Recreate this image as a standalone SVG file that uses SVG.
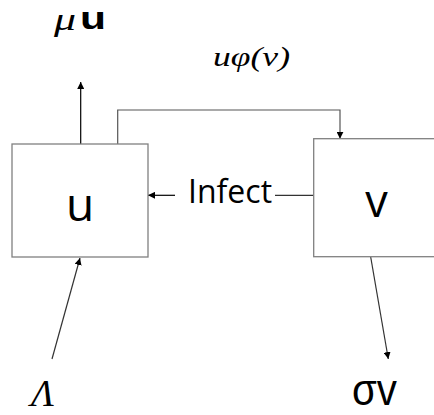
<svg xmlns="http://www.w3.org/2000/svg" width="434" height="415" viewBox="0 0 434 415">
<defs>
<marker id="ah" viewBox="0 0 10 10" refX="10" refY="5" markerWidth="7" markerHeight="7" markerUnits="userSpaceOnUse" orient="auto">
<path d="M0,0 L10,5 L0,10 z" fill="#000"/>
</marker>
<style>
.box{fill:#fff;stroke:#808080;stroke-width:1.3}
.lbl{font-family:"Open Sans","Liberation Sans",sans-serif;fill:#000}
.math{font-family:"Liberation Serif","DejaVu Serif",serif;font-style:italic;fill:#000}
.edge{fill:none;stroke-width:1.2}
</style>
</defs>
<rect width="434" height="415" fill="#fff"/>
<g id="connectors">
<path class="edge" d="M80.7,144 V82" stroke="#000" marker-end="url(#ah)"/>
<path class="edge" d="M117.7,144 V110 H340 V138.7" stroke="#555" marker-end="url(#ah)"/>
<path class="edge" d="M313.7,195.3 H275" stroke="#333"/>
<path class="edge" d="M175,195.3 H148" stroke="#000" marker-end="url(#ah)"/>
<path class="edge" d="M52,359 L80,258" stroke="#333" marker-end="url(#ah)"/>
<path class="edge" d="M370.7,257 L388.3,359" stroke="#333" marker-end="url(#ah)"/>
</g>
<g id="node-u">
<rect class="box" x="12" y="144" width="136" height="113"/>
<text class="lbl" x="80" y="220.7" font-size="46" text-anchor="middle">u</text>
</g>
<g id="node-v">
<rect class="box" x="313.7" y="138.7" width="130" height="118"/>
<text class="lbl" x="376.5" y="217.3" font-size="45" text-anchor="middle">v</text>
</g>
<g id="label-infect">
<text class="lbl" x="188" y="202.7" font-size="32">Infect</text>
</g>
<g id="label-mu">
<text class="math" x="54" y="29.5" font-size="32" textLength="22" lengthAdjust="spacingAndGlyphs">μ</text>
<text x="80" y="29" font-family="Liberation Sans,sans-serif" font-weight="bold" font-size="31" fill="#000" textLength="26" lengthAdjust="spacingAndGlyphs">u</text>
</g>
<g id="label-flow">
<text class="math" x="213" y="66" font-size="28" textLength="77" lengthAdjust="spacingAndGlyphs">uφ(v)</text>
</g>
<g id="label-lambda">
<text x="31" y="406" font-family="Liberation Serif,serif" font-style="italic" font-size="38" fill="#000">Λ</text>
</g>
<g id="label-sigma">
<text x="352" y="405" font-family="Liberation Sans,sans-serif" font-size="44" fill="#000" textLength="45" lengthAdjust="spacingAndGlyphs">σv</text>
</g>
</svg>
